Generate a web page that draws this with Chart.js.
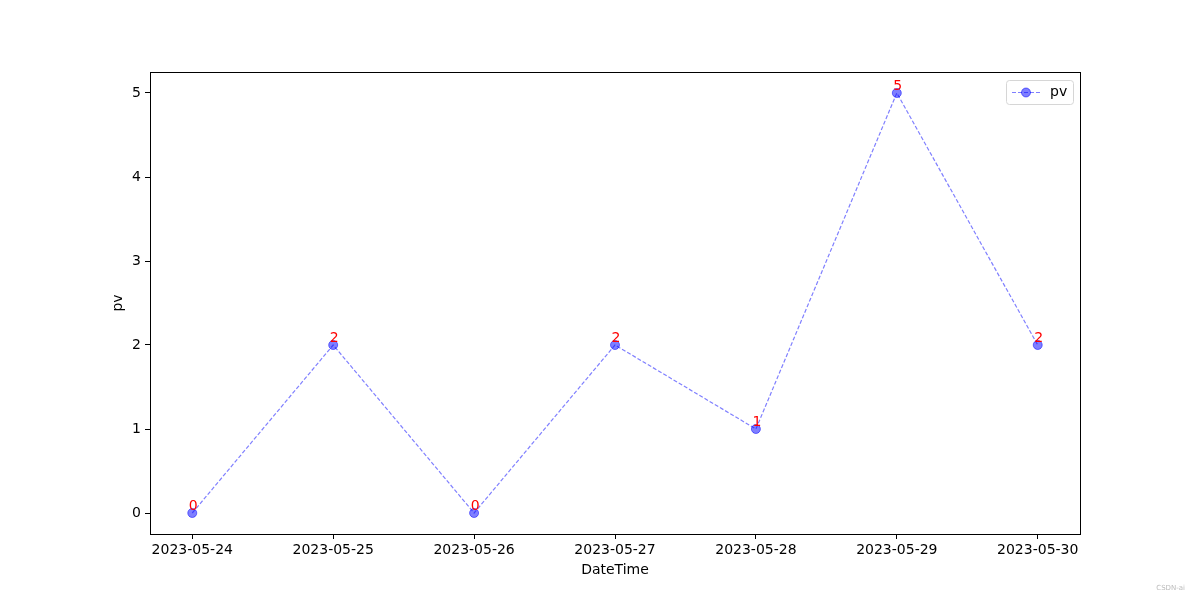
<!DOCTYPE html>
<html lang="en">
<head>
    <meta charset="UTF-8">
    <title>pv by DateTime</title>
    <script src="https://cdn.jsdelivr.net/npm/chart.js@4/dist/chart.umd.min.js"></script>
    <style>
        body { margin: 0; background: #fff; }
        #wrap { width: 1200px; height: 600px; }
    </style>
</head>
<body>
    <div id="wrap"><canvas id="pvChart" width="1200" height="600"></canvas></div>

    <script>
        // data
        const dates = ['2023-05-24', '2023-05-25', '2023-05-26', '2023-05-27', '2023-05-28', '2023-05-29', '2023-05-30'];
        const pv = [0, 2, 0, 2, 1, 5, 2];
        const yTicks = [0, 1, 2, 3, 4, 5];

        const FONT = 'DejaVu Sans, sans-serif';
        const blue = 'rgba(0, 0, 255, 0.5)';

        // frame, red value labels, legend box, watermark
        const extras = {
            id: 'extras',
            afterDatasetsDraw(chart) {
                const ctx = chart.ctx;
                const a = chart.chartArea;
                ctx.save();
                ctx.strokeStyle = '#000';
                ctx.lineWidth = 1;
                ctx.strokeRect(Math.round(a.left) + 0.5, Math.round(a.top) + 0.5,
                    Math.round(a.right - a.left), Math.round(a.bottom - a.top));

                // value labels
                const meta = chart.getDatasetMeta(0);
                ctx.fillStyle = 'red';
                ctx.font = '14px ' + FONT;
                ctx.textAlign = 'center';
                ctx.textBaseline = 'alphabetic';
                meta.data.forEach((pt, i) => {
                    ctx.fillText(String(pv[i]), pt.x + 1, pt.y - 3);
                });

                // legend
                const lx = 1006, ly = 80, lw = 67, lh = 24;
                ctx.fillStyle = 'rgba(255,255,255,0.8)';
                ctx.strokeStyle = '#d6d6d6';
                ctx.beginPath();
                ctx.roundRect(lx + 0.5, ly + 0.5, lw, lh, 3);
                ctx.fill();
                ctx.stroke();
                const my = ly + lh / 2 + 0.5;
                ctx.strokeStyle = blue;
                ctx.setLineDash([4, 2]);
                ctx.beginPath();
                ctx.moveTo(lx + 6, my);
                ctx.lineTo(lx + 34, my);
                ctx.stroke();
                ctx.setLineDash([]);
                ctx.fillStyle = blue;
                ctx.beginPath();
                ctx.arc(lx + 20, my, 4.5, 0, Math.PI * 2);
                ctx.fill();
                ctx.strokeStyle = blue;
                ctx.stroke();
                ctx.fillStyle = '#000';
                ctx.font = '14px ' + FONT;
                ctx.textAlign = 'left';
                ctx.textBaseline = 'middle';
                ctx.fillText('pv', lx + 44, my);

                ctx.fillStyle = '#bbb';
                ctx.font = '7px ' + FONT;
                ctx.textAlign = 'right';
                ctx.fillText('CSDN-ai', 1185, 588);
                ctx.restore();
            }
        };

        new Chart(document.getElementById('pvChart'), {
            type: 'line',
            data: {
                datasets: [{
                    label: 'pv',
                    data: pv.map((v, i) => ({ x: i, y: v })),
                    borderColor: blue,
                    borderWidth: 1.2,
                    borderDash: [4, 2],
                    backgroundColor: blue,
                    pointBackgroundColor: blue,
                    pointBorderColor: blue,
                    pointBorderWidth: 1,
                    pointRadius: 4.5,
                    tension: 0,
                    fill: false
                }]
            },
            options: {
                responsive: false,
                animation: false,
                layout: { padding: { top: 72, right: 120, left: 110, bottom: 21 } },
                plugins: {
                    legend: { display: false },
                    tooltip: { enabled: false }
                },
                scales: {
                    x: {
                        type: 'linear',
                        min: -0.3,
                        max: 6.3,
                        afterBuildTicks: s => { s.ticks = dates.map((d, i) => ({ value: i })); },
                        afterFit: s => { s.height = 45; },
                        ticks: {
                            callback: v => dates[v],
                            color: '#000',
                            font: { family: FONT, size: 14 },
                            padding: 3,
                            maxRotation: 0,
                            autoSkip: false
                        },
                        grid: { drawOnChartArea: false, tickLength: 5, color: '#000' },
                        border: { display: false },
                        title: {
                            display: true,
                            text: 'DateTime',
                            color: '#000',
                            font: { family: FONT, size: 14 },
                            padding: 0
                        }
                    },
                    y: {
                        min: -0.25,
                        max: 5.25,
                        afterBuildTicks: s => { s.ticks = yTicks.map(v => ({ value: v })); },
                        afterFit: s => { s.width = 40; },
                        ticks: {
                            color: '#000',
                            font: { family: FONT, size: 14 },
                            padding: 4
                        },
                        grid: { drawOnChartArea: false, tickLength: 5, color: '#000' },
                        border: { display: false },
                        title: {
                            display: true,
                            text: 'pv',
                            color: '#000',
                            font: { family: FONT, size: 14 },
                            padding: 0
                        }
                    }
                }
            },
            plugins: [extras]
        });
    </script>
</body>
</html>
